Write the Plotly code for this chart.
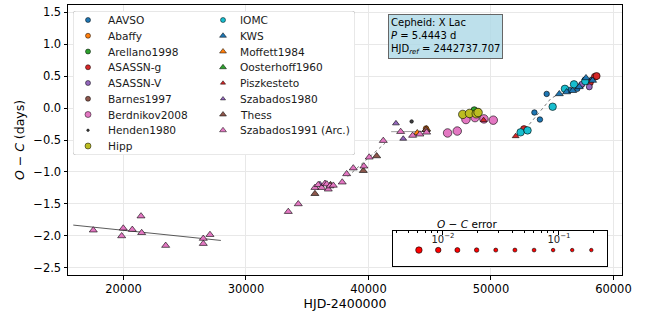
import plotly.graph_objects as go

# ---------------- data (HJD-2400000, O-C in days) ----------------
names = ["AAVSO", "Abaffy", "Arellano1998", "ASASSN-g", "ASASSN-V", "Barnes1997",
         "Berdnikov2008", "Henden1980", "Hipp", "IOMC", "KWS", "Moffett1984",
         "Oosterhoff1960", "Piszkesteto", "Szabados1980", "Thess", "Szabados1991 (Arc.)"]

aavso_hjd = [53550, 54000, 54550, 56400, 57050, 57400, 57670, 58220]
aavso_oc = [-0.07, -0.18, 0.22, 0.28, 0.30, 0.36, 0.44, 0.44]
abaffy_hjd = [44700]
abaffy_oc = [-0.32]
arellano_hjd = [48640]
arellano_oc = [-0.03]
asassng_hjd = [52700, 58080, 58490, 58630]
asassng_oc = [-0.33, 0.40, 0.49, 0.50]
asassnv_hjd = [57410, 58030]
asassnv_oc = [0.37, 0.33]
barnes_hjd = [48960]
barnes_oc = [-0.06]
berdnikov_hjd = [46460, 47250, 47960, 48700, 49430, 50190]
berdnikov_oc = [-0.39, -0.36, -0.18, -0.15, -0.17, -0.19]
henden_hjd = [43525]
henden_oc = [-0.21]
hipp_hjd = [47700, 48250, 48800, 48950]
hipp_oc = [-0.10, -0.085, -0.09, -0.07]
iomc_hjd = [52420, 52990, 55040, 56040, 56780, 57700]
iomc_oc = [-0.38, -0.35, 0.02, 0.30, 0.37, 0.42]
kws_hjd = [55580, 56180, 56670, 57210, 57760, 58300]
kws_oc = [0.22, 0.25, 0.27, 0.33, 0.47, 0.43]
moffett_hjd = [43985, 44750]
moffett_oc = [-0.39, -0.33]
oosterhoff_hjd = []
oosterhoff_oc = []
piszkesteto_hjd = [49400, 52020]
piszkesteto_oc = [-0.19, -0.44]
szabados80_hjd = [36040, 42245, 42840]
szabados80_oc = [-1.19, -0.24, -0.48]
thess_hjd = [35630, 36900, 39580, 40670, 44690]
thess_oc = [-1.34, -1.20, -0.98, -0.75, -0.34]
szabados91_hjd = [17535, 19983, 19850, 20720, 21430, 21485, 23445, 26515, 26515, 27060,
                  33455, 34270, 35630, 35900, 36180, 36450, 36600, 36720, 36860, 37130,
                  37860, 38220, 38760, 39630, 40060, 41210, 42630, 43605, 44200, 44750]
szabados91_oc = [-1.91, -1.88, -2.00, -1.90, -1.69, -1.95, -2.15, -2.04, -2.12, -1.98,
                 -1.62, -1.50, -1.245, -1.20, -1.245, -1.18, -1.19, -1.27, -1.22, -1.21,
                 -1.16, -1.03, -0.94, -0.91, -0.77, -0.51, -0.37, -0.43, -0.41, -0.38]

# fitted segments
fitA_hjd = [15900, 27950]
fitA_oc = [-1.83, -2.07]
fitB_hjd = [38300, 41350]
fitB_oc = [-1.07, -0.55]
fitC_hjd = [41850, 45050]
fitC_oc = [-0.37, -0.365]
fitD_hjd = [47450, 49100]
fitD_oc = [-0.135, -0.05]
fitE_hjd = [52500, 54900, 57950]
fitE_oc = [-0.40, 0.15, 0.46]

# error-scale legend values
err_values = [0.0062, 0.0091, 0.0133, 0.0195, 0.0285, 0.0417, 0.061, 0.089, 0.130, 0.19]

info_lines = ["Cepheid: X Lac", "<i>P</i> = 5.4443 d", "HJD<sub><i>ref</i></sub> = 2442737.707"]

series_data = {
    "AAVSO": (aavso_hjd, aavso_oc), "Abaffy": (abaffy_hjd, abaffy_oc),
    "Arellano1998": (arellano_hjd, arellano_oc), "ASASSN-g": (asassng_hjd, asassng_oc),
    "ASASSN-V": (asassnv_hjd, asassnv_oc), "Barnes1997": (barnes_hjd, barnes_oc),
    "Berdnikov2008": (berdnikov_hjd, berdnikov_oc), "Henden1980": (henden_hjd, henden_oc),
    "Hipp": (hipp_hjd, hipp_oc), "IOMC": (iomc_hjd, iomc_oc), "KWS": (kws_hjd, kws_oc),
    "Moffett1984": (moffett_hjd, moffett_oc), "Oosterhoff1960": (oosterhoff_hjd, oosterhoff_oc),
    "Piszkesteto": (piszkesteto_hjd, piszkesteto_oc), "Szabados1980": (szabados80_hjd, szabados80_oc),
    "Thess": (thess_hjd, thess_oc), "Szabados1991 (Arc.)": (szabados91_hjd, szabados91_oc),
}

# ---------------- styles ----------------
BLUE, ORANGE, GREEN, RED = "#1f77b4", "#ff7f0e", "#2ca02c", "#d62728"
PURPLE, BROWN, PINK, GRAY, OLIVE, CYAN = "#9467bd", "#8c564b", "#e377c2", "#7f7f7f", "#bcbd22", "#17becf"
style = {  # color, symbol, plot size, legend size
    "AAVSO": (BLUE, "circle", 5.5, 5),
    "Abaffy": (ORANGE, "circle", 5.5, 5),
    "Arellano1998": (GREEN, "circle", 6.5, 5),
    "ASASSN-g": (RED, "circle", 7, 5),
    "ASASSN-V": (PURPLE, "circle", 6, 5),
    "Barnes1997": (BROWN, "circle", 6.5, 5),
    "Berdnikov2008": (PINK, "circle", 8.5, 6),
    "Henden1980": ("#404040", "circle", 3.5, 2.5),
    "Hipp": (OLIVE, "circle", 8.5, 6),
    "IOMC": (CYAN, "circle", 7.5, 5),
    "KWS": (BLUE, "triangle-up", 7, 6),
    "Moffett1984": (ORANGE, "triangle-up", 7, 6),
    "Oosterhoff1960": (GREEN, "triangle-up", 7, 6),
    "Piszkesteto": (RED, "triangle-up", 6, 4.5),
    "Szabados1980": (PURPLE, "triangle-up", 6, 4.5),
    "Thess": (BROWN, "triangle-up", 7, 6),
    "Szabados1991 (Arc.)": (PINK, "triangle-up", 7, 6),
}
err_sizes = [6.5, 5.5, 5, 4.5, 4, 4, 3.8, 3.6, 3.5, 3.5]

FONT = "DejaVu Sans"
W, H = 646, 312
L, R, T, B = 68, 24, 5, 37
pw, ph = W - L - R, H - T - B

def px_x(p):
    return (p - L) / pw

def px_y(p):
    return (H - B - p) / ph

fig = go.Figure()

# fit lines
for fx, fy, col, dash in [(fitA_hjd, fitA_oc, "rgba(40,40,40,0.85)", "solid"),
                          (fitB_hjd, fitB_oc, "rgba(90,90,90,0.9)", "dot"),
                          (fitC_hjd, fitC_oc, "rgba(120,120,120,0.8)", "solid"),
                          (fitD_hjd, fitD_oc, "rgba(40,40,40,0.85)", "solid"),
                          (fitE_hjd, fitE_oc, "rgba(90,90,90,0.9)", "dot")]:
    fig.add_trace(go.Scatter(x=fx, y=fy, mode="lines", line=dict(color=col, width=0.9, dash=dash),
                             showlegend=False, hoverinfo="skip"))

for n in names:
    hx, oy = series_data[n]
    col, sym, sz, _ = style[n]
    fig.add_trace(go.Scatter(x=hx, y=oy, mode="markers", name=n, showlegend=False,
                             marker=dict(color=col, symbol=sym, size=sz, opacity=1,
                                         line=dict(color="black", width=0.6))))

# ---------------- custom legend on an overlay axis (pixel units) ----------------
LBX0, LBX1, LBY0, LBY1 = 73, 355, 11, 155
lw, lh = LBX1 - LBX0, LBY1 - LBY0
row0, rowgap = 9, 15.75
leg_x, leg_y, leg_c, leg_s, leg_sz = [], [], [], [], []
for i, n in enumerate(names):
    col_i, row_i = (0, i) if i < 9 else (1, i - 9)
    mx = 15 if col_i == 0 else 150
    tx = 33 if col_i == 0 else 165
    ry = row0 + rowgap * row_i
    c, s, _, ls = style[n]
    leg_x.append(mx); leg_y.append(ry); leg_c.append(c); leg_s.append(s); leg_sz.append(ls)
    fig.add_annotation(x=tx, y=ry, xref="x3", yref="y3", text=n, showarrow=False,
                       xanchor="left", yanchor="middle", font=dict(family=FONT, size=10.6, color="#1a1a1a"))
fig.add_trace(go.Scatter(x=leg_x, y=leg_y, xaxis="x3", yaxis="y3", mode="markers", showlegend=False,
                         hoverinfo="skip",
                         marker=dict(color=leg_c, symbol=leg_s, size=leg_sz, opacity=1,
                                     line=dict(color="black", width=0.5))))
r = 3
fig.add_shape(type="path", xref="x3", yref="y3", layer="below",
              path=f"M {r},0 L {lw-r},0 Q {lw},0 {lw},{r} L {lw},{lh-r} Q {lw},{lh} {lw-r},{lh} "
                   f"L {r},{lh} Q 0,{lh} 0,{lh-r} L 0,{r} Q 0,0 {r},0 Z",
              fillcolor="rgba(255,255,255,0.85)", line=dict(color="#d0d0d0", width=1))

# ---------------- error-scale inset ----------------
fig.add_shape(type="rect", xref="x2", yref="y2", layer="below", x0=1e-5, x1=1e2, y0=-5, y1=5,
              fillcolor="white", line=dict(width=0))
fig.add_trace(go.Scatter(x=err_values, y=[0] * len(err_values), xaxis="x2", yaxis="y2", mode="markers",
                         showlegend=False, hoverinfo="skip",
                         marker=dict(color="red", size=err_sizes, opacity=1,
                                     line=dict(color="black", width=0.6))))
minor_vals = [0.004, 0.005, 0.006, 0.007, 0.008, 0.009, 0.02, 0.03, 0.04, 0.05, 0.06, 0.07, 0.08, 0.09, 0.2]

IX0, IX1, IY0, IY1 = 393, 607, 231, 266
fig.add_annotation(x=px_x((IX0 + IX1) / 2), y=px_y(IY0), xref="paper", yref="paper", showarrow=False,
                   yanchor="bottom", yshift=-1,
                   text="<i>O</i> − <i>C</i> error", font=dict(family=FONT, size=10.5, color="black"))

# info box
fig.add_annotation(x=px_x(388), y=px_y(14), xref="paper", yref="paper", xanchor="left", yanchor="top",
                   text="<br>".join(info_lines), align="left", showarrow=False,
                   font=dict(family=FONT, size=10, color="black"),
                   bgcolor="rgba(173,216,230,0.8)", bordercolor="#666", borderwidth=1, borderpad=2)

axis_common = dict(showline=True, linecolor="black", linewidth=1, mirror=True,
                   ticks="outside", ticklen=3.5, tickwidth=0.8, tickcolor="black",
                   tickfont=dict(family=FONT, size=11.5, color="black"),
                   showgrid=True, gridcolor="#e8e8e8", gridwidth=0.8, zeroline=False)

hidden = dict(visible=True, showline=False, showgrid=False, zeroline=False, ticks="",
              showticklabels=False, autorange=False, fixedrange=True)

fig.update_layout(
    width=W, height=H, margin=dict(l=L, r=R, t=T, b=B),
    paper_bgcolor="white", plot_bgcolor="white", showlegend=False,
    font=dict(family=FONT, size=11, color="black"),
    xaxis=dict(axis_common, range=[15470, 60700], dtick=10000, tick0=0, tickformat="d",
               title=dict(text="HJD-2400000", font=dict(family=FONT, size=12.5), standoff=2),
               domain=[0, 1]),
    yaxis=dict(axis_common, range=[-2.61, 1.61], dtick=0.5, tick0=0, tickformat=".1f",
               title=dict(text="<i>O</i> − <i>C</i> (days)", font=dict(family=FONT, size=12.5), standoff=5),
               domain=[0, 1]),
    xaxis2=dict(type="log", domain=[px_x(IX0), px_x(IX1)], range=[-2.431, -0.586], anchor="y2",
                side="top", showline=True, linecolor="black", linewidth=1, mirror=True,
                ticks="inside", ticklen=3.5, tickwidth=0.8, tickcolor="black",
                tickvals=[0.01, 0.1], ticktext=["10<sup>−2</sup>", "10<sup>−1</sup>"],
                ticklabelposition="inside", tickfont=dict(family=FONT, size=10, color="#222"),
                minor=dict(tickvals=minor_vals, ticks="inside", ticklen=2, tickwidth=0.6,
                           tickcolor="black", showgrid=False),
                showgrid=False, zeroline=False),
    yaxis2=dict(domain=[px_y(IY1), px_y(IY0)], range=[-1, 1.2], anchor="x2", showline=True,
                linecolor="black", linewidth=1, mirror=True, ticks="", showticklabels=False,
                showgrid=False, zeroline=False),
    xaxis3=dict(hidden, domain=[px_x(LBX0), px_x(LBX1)], range=[0, lw], anchor="y3"),
    yaxis3=dict(hidden, domain=[px_y(LBY1), px_y(LBY0)], range=[lh, 0], anchor="x3"),
)

fig.write_html("out.html", config={"displayModeBar": False},
               post_script="document.body.style.margin='0';")
